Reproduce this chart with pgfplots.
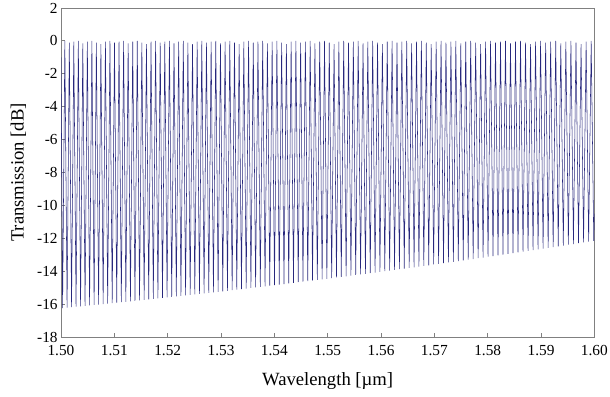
\documentclass[border=0pt]{standalone}
\usepackage{pgfplots}
\pgfplotsset{compat=1.18}
\usepackage{pgfplotstable}
\usepackage{fontspec}
\setmainfont{Liberation Serif}
\definecolor{navy}{RGB}{40,40,125}
\definecolor{frame}{RGB}{128,128,128}
\pgfplotstableread{
x y
1.50000 -1.00
1.50030 -16.24
1.50072 0.00
1.50114 -16.21
1.50156 -0.10
1.50198 -16.19
1.50240 -0.05
1.50282 -16.16
1.50325 0.00
1.50367 -16.14
1.50409 -0.15
1.50451 -16.11
1.50494 -0.05
1.50536 -16.08
1.50579 0.00
1.50621 -16.05
1.50663 -0.10
1.50705 -16.03
1.50748 -0.20
1.50790 -16.00
1.50833 -0.05
1.50875 -15.97
1.50918 0.00
1.50960 -15.94
1.51003 -0.10
1.51045 -15.91
1.51088 -0.05
1.51131 -15.88
1.51174 0.00
1.51216 -15.86
1.51259 -0.15
1.51302 -15.83
1.51345 -0.05
1.51387 -15.80
1.51430 0.00
1.51473 -15.77
1.51516 -0.10
1.51559 -15.74
1.51602 -0.20
1.51645 -15.71
1.51688 -0.05
1.51731 -15.68
1.51774 0.00
1.51817 -15.65
1.51860 -0.10
1.51903 -15.62
1.51946 -0.05
1.51989 -15.59
1.52033 0.00
1.52076 -15.56
1.52119 -0.15
1.52162 -15.53
1.52206 -0.05
1.52249 -15.50
1.52293 0.00
1.52336 -15.47
1.52379 -0.10
1.52422 -15.44
1.52466 -0.20
1.52509 -15.41
1.52553 -0.05
1.52596 -15.38
1.52640 0.00
1.52683 -15.35
1.52727 -0.10
1.52771 -15.31
1.52815 -0.05
1.52858 -15.28
1.52902 0.00
1.52946 -15.25
1.52990 -0.15
1.53033 -15.22
1.53077 -0.05
1.53121 -15.19
1.53165 0.00
1.53209 -15.15
1.53253 -0.10
1.53296 -15.12
1.53340 -0.20
1.53384 -15.09
1.53428 -0.05
1.53472 -15.06
1.53517 0.00
1.53561 -15.02
1.53605 -0.10
1.53649 -14.99
1.53693 -0.05
1.53737 -14.95
1.53782 0.00
1.53826 -14.92
1.53870 -0.15
1.53914 -14.88
1.53959 -0.05
1.54003 -14.85
1.54048 0.00
1.54092 -14.81
1.54137 -0.10
1.54181 -14.78
1.54226 -0.20
1.54270 -14.74
1.54315 -0.05
1.54359 -14.71
1.54404 0.00
1.54448 -14.67
1.54493 -0.10
1.54537 -14.64
1.54582 -0.05
1.54627 -14.60
1.54672 0.00
1.54716 -14.57
1.54761 -0.15
1.54806 -14.53
1.54851 -0.05
1.54896 -14.49
1.54941 0.00
1.54985 -14.46
1.55030 -0.10
1.55075 -14.42
1.55120 -0.20
1.55165 -14.38
1.55210 -0.05
1.55255 -14.35
1.55301 0.00
1.55346 -14.31
1.55391 -0.10
1.55436 -14.27
1.55481 -0.05
1.55526 -14.23
1.55572 0.00
1.55617 -14.19
1.55663 -0.15
1.55708 -14.16
1.55753 -0.05
1.55798 -14.12
1.55844 0.00
1.55889 -14.08
1.55935 -0.10
1.55980 -14.04
1.56026 -0.20
1.56071 -14.00
1.56117 -0.05
1.56162 -13.96
1.56208 0.00
1.56254 -13.92
1.56300 -0.10
1.56345 -13.88
1.56391 -0.05
1.56436 -13.84
1.56482 0.00
1.56528 -13.80
1.56574 -0.15
1.56620 -13.76
1.56666 -0.05
1.56711 -13.72
1.56757 0.00
1.56803 -13.68
1.56849 -0.10
1.56895 -13.64
1.56941 -0.20
1.56987 -13.59
1.57034 -0.05
1.57080 -13.55
1.57126 0.00
1.57172 -13.51
1.57218 -0.10
1.57264 -13.47
1.57311 -0.05
1.57357 -13.43
1.57403 0.00
1.57449 -13.39
1.57496 -0.15
1.57542 -13.34
1.57589 -0.05
1.57635 -13.30
1.57682 0.00
1.57728 -13.26
1.57775 -0.10
1.57821 -13.21
1.57868 -0.20
1.57914 -13.17
1.57961 -0.05
1.58007 -13.12
1.58054 0.00
1.58100 -13.08
1.58147 -0.10
1.58194 -13.04
1.58241 -0.05
1.58287 -12.99
1.58334 0.00
1.58381 -12.95
1.58428 -0.15
1.58475 -12.90
1.58522 -0.05
1.58569 -12.86
1.58616 0.00
1.58663 -12.81
1.58710 -0.10
1.58757 -12.77
1.58804 -0.20
1.58851 -12.72
1.58898 -0.05
1.58945 -12.68
1.58992 0.00
1.59039 -12.63
1.59087 -0.10
1.59134 -12.58
1.59181 -0.05
1.59228 -12.54
1.59276 0.00
1.59323 -12.49
1.59371 -0.15
1.59418 -12.44
1.59466 -0.05
1.59513 -12.39
1.59561 0.00
1.59608 -12.35
1.59656 -0.10
1.59703 -12.30
1.59751 -0.20
1.59798 -12.25
1.59846 -0.05
1.59893 -12.20
1.59941 0.00
1.59989 -12.15
1.60000 -10.50
}\spectrum
\begin{document}
\begin{tikzpicture}
\begin{axis}[
  scale only axis,
  width=400pt, height=246.75pt,
  xmin=1.50, xmax=1.60, ymin=-18, ymax=2,
  xtick={1.50,1.51,1.52,1.53,1.54,1.55,1.56,1.57,1.58,1.59,1.60},
  ytick={-18,-16,-14,-12,-10,-8,-6,-4,-2,0,2},
  xticklabel style={/pgf/number format/fixed,/pgf/number format/fixed zerofill,/pgf/number format/precision=2,yshift=-2.5pt},
  yticklabel style={xshift=1pt},
  /pgf/number format/assume math mode=true,
  tick align=inside,
  xtick pos=left, ytick pos=left,
  major tick length=3pt,
  axis line style={draw=frame, line width=0.6pt},
  tick style={draw=frame, line width=0.6pt},
  ticklabel style={font=\fontsize{11.5}{13.5}\selectfont},
  label style={font=\fontsize{14}{16}\selectfont},
  xlabel={Wavelength [µm]},
  ylabel={Transmission [dB]},
  xlabel style={at={(axis description cs:0.5,-0.1337)},anchor=center},
  ylabel style={at={(axis description cs:-0.080,0.5)},anchor=center},
  scaled x ticks=false,
]
\addplot[color=navy, line width=0.4pt, mark=none] table[x=x,y=y] {\spectrum};
\end{axis}
\pgfresetboundingbox
\path ([xshift=-45.75pt,yshift=-44.25pt]current axis.south west) rectangle ([xshift=11.75pt,yshift=6pt]current axis.north east);
\end{tikzpicture}
\end{document}
